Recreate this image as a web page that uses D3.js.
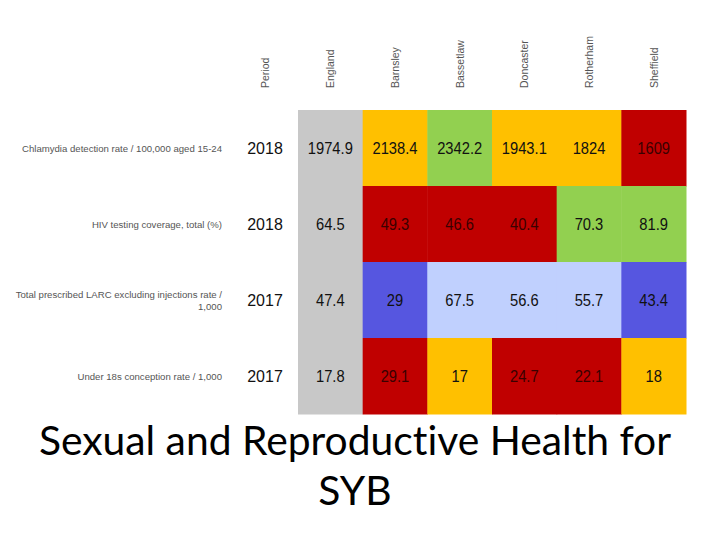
<!DOCTYPE html>
<html><head><meta charset="utf-8">
<script src="https://cdn.jsdelivr.net/npm/d3@7"></script>
<style>html,body{margin:0;padding:0;background:#fff;}</style>
</head><body>
<svg id="c" width="720" height="540"></svg>
<script>
const areas = ["England","Barnsley","Bassetlaw","Doncaster","Rotherham","Sheffield"];
const indicators = [
  "Chlamydia detection rate / 100,000 aged 15-24",
  "HIV testing coverage, total (%)",
  "Total prescribed LARC excluding injections rate / 1,000",
  "Under 18s conception rate / 1,000"
];
const periods = ["2018","2018","2017","2017"];
const values = [
  ["1974.9","2138.4","2342.2","1943.1","1824","1609"],
  ["64.5","49.3","46.6","40.4","70.3","81.9"],
  ["47.4","29","67.5","56.6","55.7","43.4"],
  ["17.8","29.1","17","24.7","22.1","18"]
];
// RAG status per cell: n = England/benchmark, a = similar, g = better, r = worse, hb = higher, lb = lower
const status = [
  ["n","a","g","a","a","r"],
  ["n","r","r","r","g","g"],
  ["n","hb","lb","lb","lb","hb"],
  ["n","r","a","r","r","a"]
];
const statusColors = {n:"#c8c8c8",a:"#ffc000",g:"#92d050",r:"#c00000",hb:"#5656e0",lb:"#c0d0fe"};
const titleLines = ["Sexual and Reproductive Health for","SYB"];

const svg = d3.select("#c");
const x = d3.scaleBand().domain(areas).range([298,686]).padding(0);
const y = d3.scaleBand().domain(indicators).range([110,414]).padding(0);

const cells = [];
indicators.forEach((ind,i)=>areas.forEach((a,j)=>cells.push({ind,a,v:values[i][j],s:status[i][j]})));

svg.append("g").selectAll("rect").data(cells).join("rect")
  .attr("x",d=>x(d.a)).attr("y",d=>y(d.ind))
  .attr("width",x.bandwidth()+0.5).attr("height",y.bandwidth()+0.5)
  .attr("fill",d=>statusColors[d.s]);

svg.append("g").selectAll("text").data(cells).join("text")
  .attr("x",d=>x(d.a)+x.bandwidth()/2).attr("y",d=>y(d.ind)+y.bandwidth()/2)
  .attr("text-anchor","middle").attr("dominant-baseline","central")
  .attr("font-family","Liberation Sans, Arial, sans-serif").attr("font-size",16)
  .attr("fill",d=>d.s==="r"?"#3a0000":"#111")
  .attr("transform",d=>`translate(${x(d.a)+x.bandwidth()/2},0) scale(0.92,1) translate(${-(x(d.a)+x.bandwidth()/2)},0)`)
  .text(d=>d.v);

// Column headers (rotated)
const headerX = [{t:"Period",cx:265}].concat(areas.map(a=>({t:a,cx:x(a)+x.bandwidth()/2})));
svg.append("g").selectAll("text").data(headerX).join("text")
  .attr("transform",d=>`translate(${d.cx+4},88) rotate(-90)`)
  .attr("text-anchor","start")
  .attr("font-family","Liberation Sans, Arial, sans-serif").attr("font-size",10.5)
  .attr("fill","#555").text(d=>d.t);

// Periods
svg.append("g").selectAll("text").data(indicators).join("text")
  .attr("x",265).attr("y",d=>y(d)+y.bandwidth()/2)
  .attr("text-anchor","middle").attr("dominant-baseline","central")
  .attr("font-family","Liberation Sans, Arial, sans-serif").attr("font-size",16)
  .attr("fill","#111")
  .text((d,i)=>periods[i]);

// Row labels
const lbl = svg.append("g").selectAll("text").data(indicators).join("text")
  .attr("text-anchor","end")
  .attr("font-family","Liberation Sans, Arial, sans-serif").attr("font-size",9.6)
  .attr("fill","#555");
lbl.each(function(d){
  const t = d3.select(this);
  const cy = y(d)+y.bandwidth()/2;
  if (d.startsWith("Total prescribed")) {
    t.append("tspan").attr("x",222).attr("y",cy-6).attr("dominant-baseline","central").text("Total prescribed LARC excluding injections rate /");
    t.append("tspan").attr("x",222).attr("y",cy+6).attr("dominant-baseline","central").text("1,000");
  } else {
    t.append("tspan").attr("x",222).attr("y",cy).attr("dominant-baseline","central").text(d);
  }
});

// Title
svg.append("g").selectAll("text").data(titleLines).join("text")
  .attr("x",355).attr("y",(d,i)=>455+i*50)
  .attr("text-anchor","middle")
  .attr("font-family","Lato, Open Sans, sans-serif").attr("font-size",40.8)
  .style("font-variant-ligatures","none")
  .attr("fill","#000").text(d=>d);
</script>
</body></html>
